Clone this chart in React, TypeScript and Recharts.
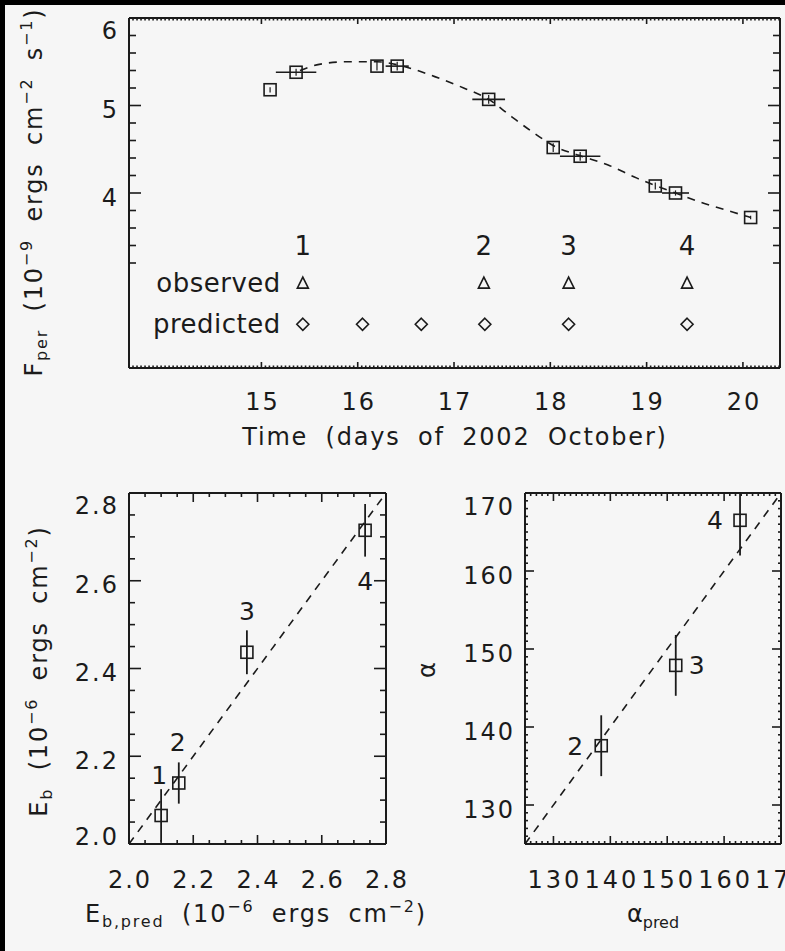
import React from "react";
import { ComposedChart, Scatter, Line, XAxis, YAxis, ErrorBar, ReferenceLine } from "recharts";

// --- top panel: persistent flux vs time ---
const obsTime = [15.09, 15.36, 16.2, 16.41, 17.36, 18.03, 18.31, 19.09, 19.3, 20.08];
const obsFlux = [5.18, 5.38, 5.45, 5.45, 5.07, 4.52, 4.42, 4.08, 4.0, 3.72];
const obsTimeErr = [0, 0.21, 0, 0.12, 0.17, 0, 0.21, 0, 0.14, 0];
const obsFluxErr = [0.03, 0.04, 0.05, 0.05, 0.05, 0.05, 0.05, 0.04, 0.03, 0.02];

const fitTime = [15.4, 15.6, 15.9, 16.2, 16.5, 16.8, 17.1, 17.36, 17.6, 17.85, 18.05, 18.3, 18.6, 18.9, 19.1, 19.3, 19.6, 19.9, 20.08];
const fitFlux = [5.4, 5.47, 5.5, 5.5, 5.44, 5.33, 5.2, 5.07, 4.87, 4.67, 4.53, 4.43, 4.32, 4.17, 4.08, 4.0, 3.88, 3.78, 3.72];

const eventLabels = ["1", "2", "3", "4"];
const observedTime = [15.43, 17.31, 18.19, 19.42];
const predictedTime = [15.43, 16.05, 16.66, 17.32, 18.19, 19.42];

// --- bottom left: burst energy ---
const burstIds = ["1", "2", "3", "4"];
const energyPred = [2.1, 2.155, 2.367, 2.735];
const energyObs = [2.065, 2.139, 2.437, 2.715];
const energyErr = [0.06, 0.047, 0.05, 0.06];

// --- bottom right: alpha ---
const alphaIds = ["2", "3", "4"];
const alphaPred = [138.4, 151.5, 162.8];
const alphaObs = [137.6, 147.9, 166.5];
const alphaErr = [3.9, 3.9, 4.5];

const FONT = "'DejaVu Sans', Verdana, sans-serif";
const INK = "#1b1b1b";
const BG = "#f6f6f6";

function range(start: number, stop: number, step: number) {
  const out: number[] = [];
  const n = Math.round((stop - start) / step);
  for (let i = 0; i <= n; i++) out.push(+(start + i * step).toFixed(6));
  return out;
}

const near = (v: number, step: number) => Math.abs(v / step - Math.round(v / step)) < 1e-6;

type TickSpec = {
  side: "left" | "right" | "top" | "bottom";
  isMajor: (v: number) => boolean;
  majorLen: number;
  minorLen: number;
  format?: (v: number) => string;
  band?: [number, number];
  labelGap?: number;
  spacing?: number;
};

function makeTick(spec: TickSpec) {
  return (props: any) => {
    const { x, y, payload } = props;
    const v = payload.value;
    const major = spec.isMajor(v);
    const len = major ? spec.majorLen : spec.minorLen;
    let x2 = x, y2 = y;
    if (spec.side === "left") x2 = x + len;
    if (spec.side === "right") x2 = x - len;
    if (spec.side === "top") y2 = y + len;
    if (spec.side === "bottom") y2 = y - len;
    const ls = spec.spacing ?? 2;
    let label: React.ReactNode = null;
    if (major && spec.format) {
      if (spec.side === "left") {
        let c = y + 4;
        if (spec.band) c = Math.min(Math.max(c, spec.band[0]), spec.band[1]);
        label = (
          <text x={x - 10} y={c + 8.5} textAnchor="end" fontFamily={FONT} fontSize={24} fill={INK} style={{ letterSpacing: `${ls}px` }}>
            {spec.format(v)}
          </text>
        );
      } else if (spec.side === "bottom") {
        label = (
          <text x={x + ls / 2} y={y + (spec.labelGap ?? 42)} textAnchor="middle" fontFamily={FONT} fontSize={24} fill={INK} style={{ letterSpacing: `${ls}px` }}>
            {spec.format(v)}
          </text>
        );
      }
    }
    return (
      <g>
        <line x1={x} y1={y} x2={x2} y2={y2} stroke={INK} strokeWidth={1.6} />
        {label}
      </g>
    );
  };
}

const axisLine = { stroke: INK, strokeWidth: 2 };

function OpenSquare(props: any) {
  const { cx, cy } = props;
  if (cx == null || cy == null) return <g />;
  return <rect x={cx - 6} y={cy - 6} width={12} height={12} fill="none" stroke={INK} strokeWidth={1.6} />;
}

function Triangle(props: any) {
  const { cx, cy } = props;
  return <path d={`M${cx},${cy - 6} L${cx + 5.5},${cy + 5} L${cx - 5.5},${cy + 5} Z`} fill="none" stroke={INK} strokeWidth={1.6} />;
}

function Diamond(props: any) {
  const { cx, cy } = props;
  return <path d={`M${cx},${cy - 6} L${cx + 6},${cy} L${cx},${cy + 6} L${cx - 6},${cy} Z`} fill="none" stroke={INK} strokeWidth={1.6} />;
}

function NumberMark(props: any) {
  const { cx, cy, payload } = props;
  return (
    <text x={cx} y={cy + 9} textAnchor="middle" fontFamily={FONT} fontSize={26} fill={INK}>
      {payload.label}
    </text>
  );
}

function RowTitle(props: any) {
  const { cx, cy, payload } = props;
  return (
    <text x={cx - 22} y={cy + 9} textAnchor="end" fontFamily={FONT} fontSize={26} fill={INK} style={{ letterSpacing: "0.5px" }}>
      {payload.label}
    </text>
  );
}

const titleStyle = { letterSpacing: "1.8px", wordSpacing: "8px" };

function FluxTitle() {
  const bx = 42, cy = 192;
  return (
    <text transform={`rotate(-90 ${bx} ${cy})`} x={bx} y={cy} textAnchor="middle" fontFamily={FONT} fontSize={24} fill={INK} style={titleStyle}>
      F<tspan fontSize={16} dy={5}>per</tspan>
      <tspan dy={-5}>{" (10"}</tspan>
      <tspan fontSize={16} dy={-10}>−9</tspan>
      <tspan dy={10}>{" ergs cm"}</tspan>
      <tspan fontSize={16} dy={-10}>−2</tspan>
      <tspan dy={10}>{" s"}</tspan>
      <tspan fontSize={16} dy={-10}>−1</tspan>
      <tspan dy={10}>)</tspan>
    </text>
  );
}

function TimeTitle() {
  return (
    <text x={455} y={445} textAnchor="middle" fontFamily={FONT} fontSize={24} fill={INK} style={titleStyle}>
      Time (days of 2002 October)
    </text>
  );
}

function FluxPanel() {
  const fluxPoints = obsTime.map((t, i) => ({ x: t, y: obsFlux[i], ex: obsTimeErr[i], ey: obsFluxErr[i] }));
  const fitPoints = fitTime.map((t, i) => ({ x: t, y: fitFlux[i] }));
  const eventMarks = observedTime.map((t, i) => ({ x: t, y: 3.4, label: eventLabels[i] }));
  const observedMarks = observedTime.map((t) => ({ x: t, y: 2.97 }));
  const predictedMarks = predictedTime.map((t) => ({ x: t, y: 2.5 }));
  const rowTitles = [
    { x: observedTime[0], y: 2.97, label: "observed" },
    { x: predictedTime[0], y: 2.5, label: "predicted" },
  ];
  const xTicks = range(327, 489, 1).map((k) => k / 24);
  const yTicks = range(3.2, 6, 0.2);
  const xMajor = (v: number) => near(v, 1) && v >= 15;
  const yMajor = (v: number) => near(v, 1);
  const xDomain: [number, number] = [13.625, 20.385];
  const yDomain: [number, number] = [2, 6];
  return (
    <ComposedChart width={785} height={460} margin={{ top: 17, right: 4, bottom: 91, left: 128 }}>
      <XAxis type="number" dataKey="x" domain={xDomain} allowDataOverflow ticks={xTicks} interval={0} height={1} tickSize={0} tickMargin={0} tickLine={false} axisLine={axisLine}
        tick={makeTick({ side: "bottom", isMajor: xMajor, majorLen: 6, minorLen: 2.5, format: (v) => String(v), labelGap: 42 })} label={<TimeTitle />} />
      <XAxis xAxisId="top" orientation="top" type="number" dataKey="x" domain={xDomain} allowDataOverflow ticks={xTicks} interval={0} height={1} tickSize={0} tickMargin={0} tickLine={false} axisLine={axisLine}
        tick={makeTick({ side: "top", isMajor: xMajor, majorLen: 6, minorLen: 2.5 })} />
      <YAxis type="number" dataKey="y" domain={yDomain} allowDataOverflow ticks={yTicks} interval={0} width={1} tickSize={0} tickMargin={0} tickLine={false} axisLine={axisLine}
        tick={makeTick({ side: "left", isMajor: yMajor, majorLen: 12, minorLen: 7, format: (v) => String(v), band: [30, 360] })} label={<FluxTitle />} />
      <YAxis yAxisId="right" orientation="right" type="number" domain={yDomain} allowDataOverflow ticks={yTicks} interval={0} width={1} tickSize={0} tickMargin={0} tickLine={false} axisLine={axisLine}
        tick={makeTick({ side: "right", isMajor: yMajor, majorLen: 12, minorLen: 7 })} />
      <Line data={fitPoints} dataKey="y" type="monotone" dot={false} stroke={INK} strokeWidth={1.6} strokeDasharray="8 7" isAnimationActive={false} />
      <Scatter data={fluxPoints} dataKey="y" shape={OpenSquare} isAnimationActive={false}>
        <ErrorBar dataKey="ex" direction="x" width={0} stroke={INK} strokeWidth={1.6} />
        <ErrorBar dataKey="ey" direction="y" width={0} stroke={INK} strokeWidth={1.2} />
      </Scatter>
      <Scatter data={eventMarks} dataKey="y" shape={NumberMark} isAnimationActive={false} />
      <Scatter data={observedMarks} dataKey="y" shape={Triangle} isAnimationActive={false} />
      <Scatter data={predictedMarks} dataKey="y" shape={Diamond} isAnimationActive={false} />
      <Scatter data={rowTitles} dataKey="y" shape={RowTitle} isAnimationActive={false} />
    </ComposedChart>
  );
}

function EnergyYTitle() {
  const bx = 47, cy = 211;
  return (
    <text transform={`rotate(-90 ${bx} ${cy})`} x={bx} y={cy} textAnchor="middle" fontFamily={FONT} fontSize={24} fill={INK} style={titleStyle}>
      E<tspan fontSize={16} dy={5}>b</tspan>
      <tspan dy={-5}>{" (10"}</tspan>
      <tspan fontSize={16} dy={-10}>−6</tspan>
      <tspan dy={10}>{" ergs cm"}</tspan>
      <tspan fontSize={16} dy={-10}>−2</tspan>
      <tspan dy={10}>)</tspan>
    </text>
  );
}

function EnergyXTitle() {
  return (
    <text x={256} y={462} textAnchor="middle" fontFamily={FONT} fontSize={24} fill={INK} style={titleStyle}>
      E<tspan fontSize={16} dy={5}>b,pred</tspan>
      <tspan dy={-5}>{" (10"}</tspan>
      <tspan fontSize={16} dy={-10}>−6</tspan>
      <tspan dy={10}>{" ergs cm"}</tspan>
      <tspan fontSize={16} dy={-10}>−2</tspan>
      <tspan dy={10}>)</tspan>
    </text>
  );
}

function LabeledSquare(offsets: [number, number][]) {
  return (props: any) => {
    const { cx, cy, payload, index } = props;
    if (cx == null || cy == null) return <g />;
    const [dx, dy] = offsets[index] || [0, -41];
    return (
      <g>
        <rect x={cx - 6} y={cy - 6} width={12} height={12} fill="none" stroke={INK} strokeWidth={1.6} />
        <text x={cx + dx} y={cy + dy + 9} textAnchor="middle" fontFamily={FONT} fontSize={25} fill={INK}>
          {payload.label}
        </text>
      </g>
    );
  };
}

function EnergyPanel() {
  const points = energyPred.map((p, i) => ({ x: p, y: energyObs[i], ey: energyErr[i], label: burstIds[i] }));
  const ticks = range(2, 2.8, 0.05);
  const major = (v: number) => near(v, 0.2);
  const fmt = (v: number) => v.toFixed(1);
  const domain: [number, number] = [2, 2.8];
  return (
    <ComposedChart width={445} height={491} margin={{ top: 32, right: 58, bottom: 106, left: 128 }}>
      <XAxis type="number" dataKey="x" domain={domain} allowDataOverflow ticks={ticks} interval={0} height={1} tickSize={0} tickMargin={0} tickLine={false} axisLine={axisLine}
        tick={makeTick({ side: "bottom", isMajor: major, majorLen: 9, minorLen: 4, format: fmt, labelGap: 44 })} label={<EnergyXTitle />} />
      <XAxis xAxisId="top" orientation="top" type="number" dataKey="x" domain={domain} allowDataOverflow ticks={ticks} interval={0} height={1} tickSize={0} tickMargin={0} tickLine={false} axisLine={axisLine}
        tick={makeTick({ side: "top", isMajor: major, majorLen: 9, minorLen: 4 })} />
      <YAxis type="number" dataKey="y" domain={domain} allowDataOverflow ticks={ticks} interval={0} width={1} tickSize={0} tickMargin={0} tickLine={false} axisLine={axisLine}
        tick={makeTick({ side: "left", isMajor: major, majorLen: 12, minorLen: 6, format: fmt, band: [45, 376] })} label={<EnergyYTitle />} />
      <YAxis yAxisId="right" orientation="right" type="number" domain={domain} allowDataOverflow ticks={ticks} interval={0} width={1} tickSize={0} tickMargin={0} tickLine={false} axisLine={axisLine}
        tick={makeTick({ side: "right", isMajor: major, majorLen: 12, minorLen: 6 })} />
      <ReferenceLine segment={[{ x: 2, y: 2 }, { x: 2.8, y: 2.8 }]} stroke={INK} strokeWidth={1.6} strokeDasharray="8 7" />
      <Scatter data={points} dataKey="y" shape={LabeledSquare([[-2, -40], [-1, -41], [0, -41], [0, 51]])} isAnimationActive={false}>
        <ErrorBar dataKey="ey" direction="y" width={0} stroke={INK} strokeWidth={1.8} />
      </Scatter>
    </ComposedChart>
  );
}

function AlphaYTitle() {
  const bx = 25, cy = 210;
  return (
    <text transform={`rotate(-90 ${bx} ${cy})`} x={bx} y={cy} textAnchor="middle" fontFamily={FONT} fontSize={24} fill={INK}>
      α
    </text>
  );
}

function AlphaXTitle() {
  return (
    <text x={243} y={462} textAnchor="middle" fontFamily={FONT} fontSize={24} fill={INK}>
      α<tspan fontSize={16} dy={6}>pred</tspan>
    </text>
  );
}

function AlphaPanel() {
  const domain: [number, number] = [125, 170];
  // error bars are cut at the top of the frame
  const points = alphaPred.map((p, i) => ({
    x: p,
    y: alphaObs[i],
    ey: [alphaErr[i], Math.min(alphaErr[i], domain[1] - alphaObs[i])],
    label: alphaIds[i],
  }));
  const ticks = range(125, 170, 1);
  const major = (v: number) => near(v, 10);
  const fmt = (v: number) => String(v);
  return (
    <ComposedChart width={375} height={491} margin={{ top: 32, right: 3, bottom: 106, left: 114 }}>
      <XAxis type="number" dataKey="x" domain={domain} allowDataOverflow ticks={ticks} interval={0} height={1} tickSize={0} tickMargin={0} tickLine={false} axisLine={axisLine}
        tick={makeTick({ side: "bottom", isMajor: major, majorLen: 8, minorLen: 3, format: fmt, labelGap: 44, spacing: 3 })} label={<AlphaXTitle />} />
      <XAxis xAxisId="top" orientation="top" type="number" dataKey="x" domain={domain} allowDataOverflow ticks={ticks} interval={0} height={1} tickSize={0} tickMargin={0} tickLine={false} axisLine={axisLine}
        tick={makeTick({ side: "top", isMajor: major, majorLen: 8, minorLen: 3 })} />
      <YAxis type="number" dataKey="y" domain={domain} allowDataOverflow ticks={ticks} interval={0} width={1} tickSize={0} tickMargin={0} tickLine={false} axisLine={axisLine}
        tick={makeTick({ side: "left", isMajor: major, majorLen: 9, minorLen: 3, format: fmt, band: [46, 376] })} label={<AlphaYTitle />} />
      <YAxis yAxisId="right" orientation="right" type="number" domain={domain} allowDataOverflow ticks={ticks} interval={0} width={1} tickSize={0} tickMargin={0} tickLine={false} axisLine={axisLine}
        tick={makeTick({ side: "right", isMajor: major, majorLen: 9, minorLen: 3 })} />
      <ReferenceLine segment={[{ x: 125, y: 125 }, { x: 170, y: 170 }]} stroke={INK} strokeWidth={1.6} strokeDasharray="8 7" />
      <Scatter data={points} dataKey="y" shape={LabeledSquare([[-26, 0], [21, 0], [-25, 0]])} isAnimationActive={false}>
        <ErrorBar dataKey="ey" direction="y" width={0} stroke={INK} strokeWidth={1.8} />
      </Scatter>
    </ComposedChart>
  );
}

export default function App() {
  return (
    <div style={{ position: "absolute", left: 0, top: 0, width: 785, height: 951, background: BG, overflow: "hidden" }}>
      <div style={{ position: "absolute", left: 0, top: 0 }}>
        <FluxPanel />
      </div>
      <div style={{ position: "absolute", left: 0, top: 460 }}>
        <EnergyPanel />
      </div>
      <div style={{ position: "absolute", left: 410, top: 460 }}>
        <AlphaPanel />
      </div>
      <div style={{ position: "absolute", left: 0, top: 0, width: 785, height: 5, background: "#000" }} />
      <div style={{ position: "absolute", left: 0, top: 0, width: 5, height: 951, background: "#000" }} />
    </div>
  );
}
